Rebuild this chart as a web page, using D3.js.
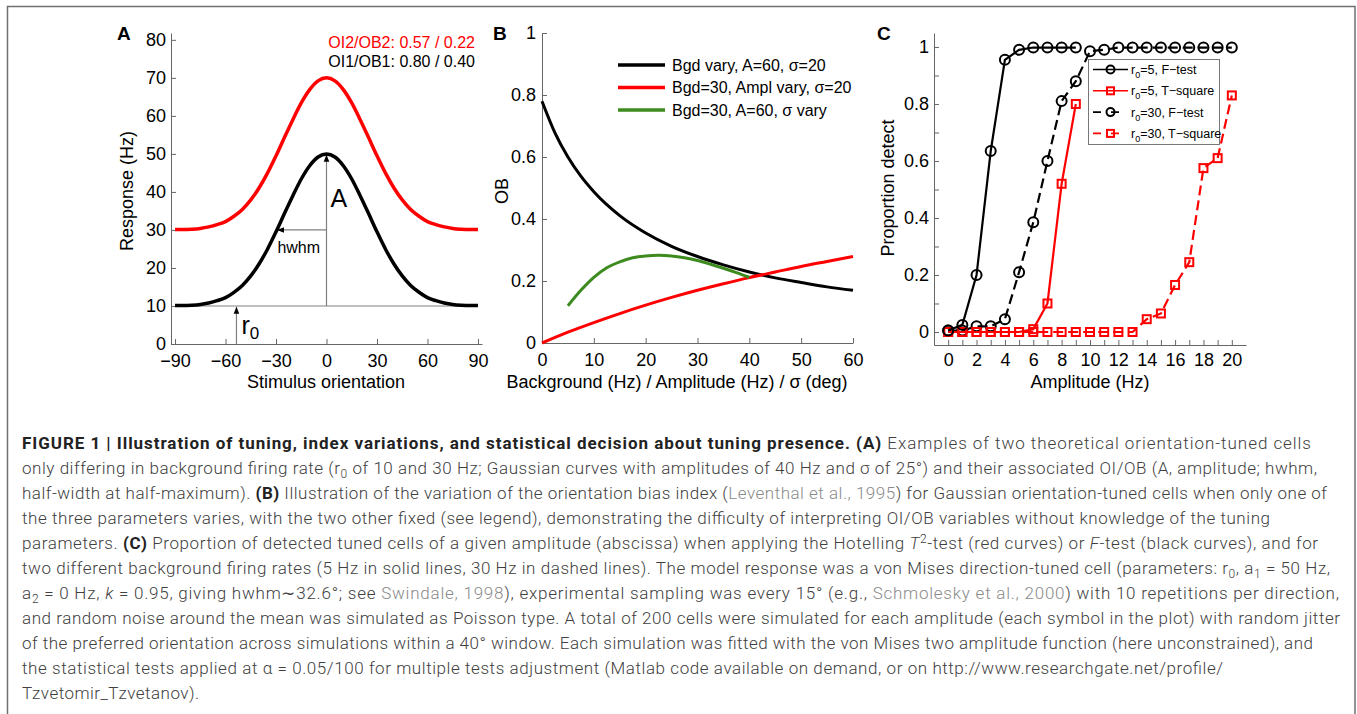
<!DOCTYPE html>
<html>
<head>
<meta charset="utf-8">
<script src="https://cdnjs.cloudflare.com/ajax/libs/d3/7.8.5/d3.min.js"></script>
<style>
  body { margin: 0; background: #fff; }
  svg { display: block; }
  .axis text { font-family: "Liberation Sans", Arial, sans-serif; font-size: 18px; fill: #000; }
  .axis path, .axis line { stroke: #666; stroke-width: 1; }
  .lbl { font-family: "Liberation Sans", Arial, sans-serif; }
  .cap { font-family: Roboto, "Liberation Sans", sans-serif; font-weight: 300; font-size: 17px; }
</style>
</head>
<body>
<div id="fig"></div>
<script>
// ---------- panel A: two gaussian tuning curves ----------
const orientDeg = [-90,-85,-80,-75,-70,-65,-60,-55,-50,-45,-40,-35,-30,-25,-20,-15,-10,-5,0,
                   5,10,15,20,25,30,35,40,45,50,55,60,65,70,75,80,85,90];
const respLow  = [10.1,10.1,10.2,10.4,10.8,11.4,12.2,13.6,15.4,17.9,21.1,25.0,29.5,34.3,39.0,43.4,46.9,49.2,50,
                  49.2,46.9,43.4,39.0,34.3,29.5,25.0,21.1,17.9,15.4,13.6,12.2,11.4,10.8,10.4,10.2,10.1,10.1];
const respHigh = [30.1,30.1,30.2,30.4,30.8,31.4,32.2,33.6,35.4,37.9,41.1,45.0,49.5,54.3,59.0,63.4,66.9,69.2,70,
                  69.2,66.9,63.4,59.0,54.3,49.5,45.0,41.1,37.9,35.4,33.6,32.2,31.4,30.8,30.4,30.2,30.1,30.1];
const ticksA_x = [-90,-60,-30,0,30,60,90];
const ticksA_y = [0,10,20,30,40,50,60,70,80];
const oiTexts = ["OI2/OB2: 0.57 / 0.22", "OI1/OB1: 0.80 / 0.40"];

// ---------- panel B: OB index when one parameter varies ----------
const bgdX   = [0,2.5,5,7.5,10,15,20,25,30,35,40,45,50,55,60];
const obBgd  = [0.78,0.678,0.60,0.538,0.488,0.411,0.355,0.312,0.279,0.252,0.229,0.21,0.195,0.181,0.17];
const amplX  = [0,5,10,15,20,25,30,35,40,45,50,55,60];
const obAmpl = [0,0.035,0.066,0.095,0.122,0.147,0.17,0.191,0.211,0.229,0.247,0.263,0.279];
const sigmaX  = [5,7.5,10,12.5,15,17.5,20,22.5,25,27.5,30,32.5,35,37.5,40];
const obSigma = [0.12,0.17,0.212,0.243,0.262,0.275,0.281,0.283,0.281,0.275,0.266,0.254,0.241,0.227,0.212];
const legendB = ["Bgd vary, A=60, σ=20", "Bgd=30, Ampl vary, σ=20", "Bgd=30, A=60, σ vary"];

// ---------- panel C: proportion detected ----------
const ampLow = [0,1,2,3,4,5,6,7,8,9];
const ampAll = [0,1,2,3,4,5,6,7,8,9,10,11,12,13,14,15,16,17,18,19,20];
const fTest5  = [0.005,0.025,0.2,0.635,0.955,0.99,0.998,0.998,0.998,0.998];
const tSq5    = [0,0,0,0,0,0,0.01,0.1,0.52,0.8];
const fTest30 = [0.005,0.005,0.02,0.02,0.045,0.21,0.385,0.6,0.81,0.88,0.985,0.99,
                 0.998,0.998,0.998,0.998,0.998,0.998,0.998,0.998,0.998];
const tSq30   = [0,0,0,0,0,0,0,0,0,0,0,0,0,0,0.045,0.065,0.165,0.245,0.575,0.61,0.83];
const legendC = [["5",", F−test"],["5",", T−square"],["30",", F−test"],["30",", T−square"]];

// ---------- caption ----------
const captionLines = [
  [["FIGURE 1 | Illustration of tuning, index variations, and statistical decision about tuning presence. (A)","b"],[" Examples of two theoretical orientation-tuned cells"]],
  [["only differing in background firing rate (r"],["0","sub"],[" of 10 and 30 Hz; Gaussian curves with amplitudes of 40 Hz and σ of 25°) and their associated OI/OB (A, amplitude; hwhm,"]],
  [["half-width at half-maximum). "],["(B)","b"],[" Illustration of the variation of the orientation bias index ("],["Leventhal et al., 1995","g"],[") for Gaussian orientation-tuned cells when only one of"]],
  [["the three parameters varies, with the two other fixed (see legend), demonstrating the difficulty of interpreting OI/OB variables without knowledge of the tuning"]],
  [["parameters. "],["(C)","b"],[" Proportion of detected tuned cells of a given amplitude (abscissa) when applying the Hotelling "],["T","i"],["2","sup"],["-test (red curves) or "],["F","i"],["-test (black curves), and for"]],
  [["two different background firing rates (5 Hz in solid lines, 30 Hz in dashed lines). The model response was a von Mises direction-tuned cell (parameters: r"],["0","sub"],[", a"],["1","sub"],[" = 50 Hz,"]],
  [["a"],["2","sub"],[" = 0 Hz, "],["k","i"],[" = 0.95, giving hwhm∼32.6°; see "],["Swindale, 1998","g"],["), experimental sampling was every 15° (e.g., "],["Schmolesky et al., 2000","g"],[") with 10 repetitions per direction,"]],
  [["and random noise around the mean was simulated as Poisson type. A total of 200 cells were simulated for each amplitude (each symbol in the plot) with random jitter"]],
  [["of the preferred orientation across simulations within a 40° window. Each simulation was fitted with the von Mises two amplitude function (here unconstrained), and"]],
  [["the statistical tests applied at α = 0.05/100 for multiple tests adjustment (Matlab code available on demand, or on http://www.researchgate.net/profile/"]],
  [["Tzvetomir_Tzvetanov)."]]
];
const captionEnds = [1311,1317,1327,1270,1318,1330,1339,1340,1313,1223,199];

const W = 1357, H = 714;
const svg = d3.select('#fig').append('svg').attr('width', W).attr('height', H);
svg.append('rect').attr('width', W).attr('height', H).attr('fill', '#fff');
svg.append('rect').attr('x', 7.5).attr('y', 6.5).attr('width', 1347.5).attr('height', 730)
  .attr('fill', 'none').attr('stroke', '#6f6f6f').attr('stroke-width', 1.5);

const defs = svg.append('defs');
defs.append('marker').attr('id', 'arr').attr('viewBox', '0 0 10 10')
  .attr('refX', 10).attr('refY', 5).attr('markerWidth', 7).attr('markerHeight', 7)
  .attr('markerUnits', 'userSpaceOnUse').attr('orient', 'auto')
  .append('path').attr('d', 'M0,1L10,5L0,9Z').attr('fill', '#000');

const fmt = d3.format('~g');

function axes(x, y, x0, y0, xt, yt, opt) {
  svg.append('g').attr('class', 'axis').attr('transform', `translate(0,${y0})`)
    .call(d3.axisBottom(x).tickValues(xt).tickSizeInner(-5).tickSizeOuter(0)
      .tickPadding(opt.xpad).tickFormat(opt.xfmt || fmt));
  svg.append('g').attr('class', 'axis').attr('transform', `translate(${x0},0)`)
    .call(d3.axisLeft(y).tickValues(yt).tickSizeInner(-5).tickSizeOuter(0)
      .tickPadding(opt.ypad).tickFormat(opt.yfmt || fmt));
}

function label(x, y, size, color) {
  return svg.append('text').attr('class', 'lbl').attr('x', x).attr('y', y)
    .attr('font-size', size).attr('fill', color || '#000');
}

function panelLetter(t, x) {
  label(x, 40, 19).attr('font-weight', 'bold').text(t);
}

function axisTitle(t, x, y, rot) {
  svg.append('text').attr('class', 'lbl').attr('font-size', 18).attr('fill', '#000')
    .attr('text-anchor', 'middle').attr('dominant-baseline', 'central')
    .attr('transform', `translate(${x},${y})` + (rot ? ' rotate(-90)' : '')).text(t);
}

// ================= Panel A =================
const xA = d3.scaleLinear([-92.4, 92.4], [171, 482]);
const yA = d3.scaleLinear([0, 81.8], [344, 33]);
axes(xA, yA, 171, 344, ticksA_x, ticksA_y, {xpad: 10, ypad: 5});
panelLetter('A', 117);
axisTitle('Response (Hz)', 127, 191, true);
axisTitle('Stimulus orientation', 326, 382, false);

// annotations (gray guides with arrows)
const guide = (x1, y1, x2, y2, arrow) => {
  const l = svg.append('line').attr('x1', xA(x1)).attr('y1', yA(y1)).attr('x2', xA(x2)).attr('y2', yA(y2))
    .attr('stroke', '#808080').attr('stroke-width', 1.2);
  if (arrow) l.attr('marker-end', 'url(#arr)');
};
guide(-90, 10, 90, 10, false);
guide(0, 10, 0, 49.8, true);
guide(0, 30, -29.4, 30, true);
guide(-53.5, 0, -53.5, 9.8, true);

const lineA = d3.line().x((d, i) => xA(orientDeg[i])).y(d => yA(d)).curve(d3.curveMonotoneX);
svg.append('path').attr('d', lineA(respHigh)).attr('fill', 'none').attr('stroke', '#ff0000').attr('stroke-width', 3.5);
svg.append('path').attr('d', lineA(respLow)).attr('fill', 'none').attr('stroke', '#000').attr('stroke-width', 3.5);

label(xA(2.4), yA(36), 25).text('A');
label(xA(-16.5), yA(24), 16).attr('text-anchor', 'middle').text('hwhm');
const r0 = label(xA(-50.5), yA(2.6), 25);
r0.append('tspan').text('r');
r0.append('tspan').attr('font-size', 17).attr('dy', 5).text('0');

oiTexts.forEach((t, i) => {
  label(475, 48 + i * 19, 16, i === 0 ? '#ff0000' : '#000').attr('text-anchor', 'end').text(t);
});

// ================= Panel B =================
const xB = d3.scaleLinear([0, 60], [542, 853]);
const yB = d3.scaleLinear([0, 1], [343, 33]);
axes(xB, yB, 542, 343, [0,10,20,30,40,50,60], [0,0.2,0.4,0.6,0.8,1], {xpad: 10, ypad: 6});
panelLetter('B', 493);
axisTitle('OB', 502, 191, true);
axisTitle('Background (Hz) / Amplitude (Hz) / σ (deg)', 677, 382, false);

const lineB = (xs) => d3.line().x((d, i) => xB(xs[i])).y(d => yB(d)).curve(d3.curveMonotoneX);
const colorsB = ['#000', '#ff0000', '#3d8b1f'];
svg.append('path').attr('d', lineB(bgdX)(obBgd)).attr('fill', 'none').attr('stroke', colorsB[0]).attr('stroke-width', 3);
svg.append('path').attr('d', lineB(amplX)(obAmpl)).attr('fill', 'none').attr('stroke', colorsB[1]).attr('stroke-width', 3);
svg.append('path').attr('d', lineB(sigmaX)(obSigma)).attr('fill', 'none').attr('stroke', colorsB[2]).attr('stroke-width', 3);

legendB.forEach((t, i) => {
  const yy = 65 + i * 22.5;
  svg.append('line').attr('x1', 618).attr('x2', 665).attr('y1', yy).attr('y2', yy)
    .attr('stroke', colorsB[i]).attr('stroke-width', 3.5);
  label(672, yy, 16).attr('dy', '0.36em').text(t);
});

// ================= Panel C =================
const xC = d3.scaleLinear([-1, 21], [934, 1246]);
const yC = d3.scaleLinear([-0.0456, 1.049], [345, 33]);
axes(xC, yC, 934, 345, d3.range(0, 21), d3.range(0, 11).map(i => i / 10),
  {xpad: 8, ypad: 5,
   xfmt: d => d % 2 === 0 ? fmt(d) : '',
   yfmt: d => Math.round(d * 10) % 2 === 0 ? fmt(d) : ''});
panelLetter('C', 877);
axisTitle('Proportion detect', 888, 188, true);
axisTitle('Amplitude (Hz)', 1090, 382, false);

const seriesC = [
  {xs: ampAll, ys: fTest30, color: '#000', dash: '10,5', mark: 'circle'},
  {xs: ampAll, ys: tSq30, color: '#ff0000', dash: '10,5', mark: 'square'},
  {xs: ampLow, ys: tSq5, color: '#ff0000', dash: null, mark: 'square'},
  {xs: ampLow, ys: fTest5, color: '#000', dash: null, mark: 'circle'}
];
function marker(g, mark, cx, cy, color, s) {
  if (mark === 'circle') {
    g.append('circle').attr('cx', cx).attr('cy', cy).attr('r', s)
      .attr('fill', 'none').attr('stroke', color).attr('stroke-width', 2);
  } else {
    g.append('rect').attr('x', cx - s).attr('y', cy - s).attr('width', 2 * s).attr('height', 2 * s)
      .attr('fill', 'none').attr('stroke', color).attr('stroke-width', 2);
  }
}
seriesC.forEach(s => {
  const line = d3.line().x((d, i) => xC(s.xs[i])).y(d => yC(d));
  svg.append('path').attr('d', line(s.ys)).attr('fill', 'none').attr('stroke', s.color)
    .attr('stroke-width', 2.2).attr('stroke-dasharray', s.dash);
  const g = svg.append('g');
  s.ys.forEach((v, i) => marker(g, s.mark, xC(s.xs[i]), yC(v), s.color, s.mark === 'circle' ? 5 : 4));
});

// legend C
svg.append('rect').attr('x', 1088.5).attr('y', 59.5).attr('width', 131).attr('height', 85)
  .attr('fill', '#fff').attr('stroke', '#777').attr('stroke-width', 1);
const legSeries = [seriesC[3], seriesC[2], seriesC[0], seriesC[1]];
legendC.forEach((t, i) => {
  const yy = 69.5 + i * 21.3, s = legSeries[i];
  const g = svg.append('g');
  g.append('line').attr('x1', 1093).attr('x2', 1128).attr('y1', yy).attr('y2', yy)
    .attr('stroke', s.color).attr('stroke-width', 1.6).attr('stroke-dasharray', s.dash ? '8,10' : null);
  marker(g, s.mark, 1110.5, yy, s.color, s.mark === 'circle' ? 4 : 3.5);
  const tx = label(1131, yy + 4.5, 12.5);
  tx.append('tspan').text('r');
  tx.append('tspan').attr('font-size', 9).attr('dy', 4).text('0');
  tx.append('tspan').attr('dy', -4).text('=' + t[0] + t[1]);
});

// ================= Caption =================
captionLines.forEach((segs, li) => {
  const t = svg.append('text').attr('class', 'cap').attr('x', 22).attr('y', 449 + li * 25)
    .attr('fill', '#404040')
    .attr('textLength', captionEnds[li] - 22).attr('lengthAdjust', 'spacing')
    .style('white-space', 'pre');
  let shift = 0;
  segs.forEach(([str, st]) => {
    const sp = t.append('tspan').text(str);
    let dy = 0;
    if (st === 'sub') { dy = 4 - shift; shift = 4; sp.attr('font-size', 12); }
    else if (st === 'sup') { dy = -6 - shift; shift = -6; sp.attr('font-size', 12); }
    else { dy = -shift; shift = 0; }
    if (dy) sp.attr('dy', dy);
    if (st === 'b') sp.attr('font-weight', 700).attr('fill', '#222');
    if (st === 'i') sp.attr('font-style', 'italic');
    if (st === 'g') sp.attr('fill', '#8a8a8a');
  });
});
</script>
</body>
</html>
